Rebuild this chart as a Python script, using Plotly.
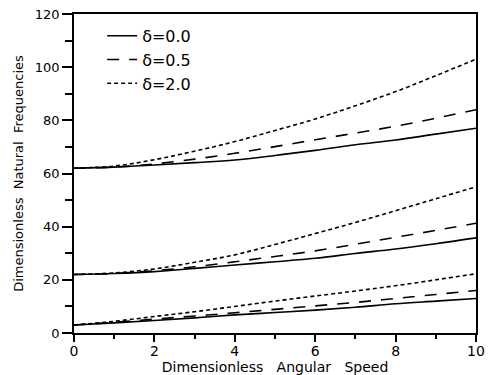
import plotly.graph_objects as go

speed = [0, 1, 2, 3, 4, 5, 6, 7, 8, 9, 10]

# mode 1
m1_d00 = [3.0, 3.8, 4.7, 5.7, 6.8, 7.7, 8.6, 9.7, 11.0, 12.0, 13.0]
m1_d05 = [3.0, 4.0, 5.2, 6.4, 7.6, 8.9, 10.2, 11.5, 13.0, 14.5, 16.0]
m1_d20 = [3.0, 4.4, 6.2, 8.0, 10.0, 12.0, 13.9, 15.8, 17.8, 20.0, 22.3]
# mode 2
m2_d00 = [22.0, 22.4, 23.1, 24.3, 25.6, 26.8, 28.1, 29.9, 31.6, 33.6, 35.8]
m2_d05 = [22.0, 22.4, 23.4, 24.9, 26.8, 28.8, 30.9, 33.4, 36.0, 38.6, 41.3]
m2_d20 = [22.0, 22.6, 24.1, 26.6, 29.4, 33.3, 37.4, 41.6, 46.0, 50.5, 55.0]
# mode 3
m3_d00 = [62.0, 62.4, 63.2, 64.1, 65.1, 66.8, 68.7, 70.8, 72.6, 74.8, 77.0]
m3_d05 = [62.0, 62.4, 63.6, 65.4, 67.6, 70.1, 72.7, 75.2, 77.8, 80.8, 84.0]
m3_d20 = [62.0, 62.8, 65.2, 68.4, 72.0, 76.2, 80.5, 85.5, 90.8, 96.8, 103.0]

series_names = ["δ=0.0", "δ=0.5", "δ=2.0"]
x_ticks = [0, 2, 4, 6, 8, 10]
y_ticks = [0, 20, 40, 60, 80, 100, 120]

dashes = ["solid", "12px,10px", "4px,3px"]
groups = [
    [m1_d00, m2_d00, m3_d00],
    [m1_d05, m2_d05, m3_d05],
    [m1_d20, m2_d20, m3_d20],
]

FONT = "DejaVu Sans"
fig = go.Figure()
for name, dash, modes in zip(series_names, dashes, groups):
    for k, vals in enumerate(modes):
        fig.add_trace(go.Scatter(
            x=speed, y=vals, mode="lines", name=name,
            line=dict(color="black", width=1.6, dash=dash, shape="spline", smoothing=1.0),
            showlegend=(k == 0), legendgroup=name,
        ))

fig.update_layout(
    width=491, height=375,
    margin=dict(l=74, r=15, t=14, b=42, autoexpand=False),
    paper_bgcolor="white", plot_bgcolor="white",
    font=dict(family=FONT, size=14, color="black"),
    legend=dict(x=0.07, y=0.985, xanchor="left", yanchor="top",
                bgcolor="rgba(0,0,0,0)", font=dict(size=16, family=FONT),
                tracegroupgap=0),
    showlegend=True,
)
fig.update_xaxes(
    range=[0, 10], tickvals=x_ticks, ticktext=[str(v) for v in x_ticks],
    showgrid=False, zeroline=False,
    showline=True, linecolor="black", linewidth=1.8, mirror=True,
    ticks="outside", ticklen=7, tickwidth=1.5, tickcolor="black",
    minor=dict(dtick=1, ticks="outside", ticklen=4, tickwidth=1.5, tickcolor="black"),
    tickfont=dict(size=14, family=FONT), ticklabelstandoff=-3,
    title=dict(text="Dimensionless   Angular   Speed", font=dict(size=14, family=FONT), standoff=1),
)
fig.update_yaxes(
    range=[0, 120], tickvals=y_ticks, ticktext=[str(v) for v in y_ticks],
    showgrid=False, zeroline=False,
    showline=True, linecolor="black", linewidth=1.8, mirror=True,
    ticks="outside", ticklen=10, tickwidth=1.5, tickcolor="black",
    minor=dict(dtick=10, ticks="outside", ticklen=7, tickwidth=1.5, tickcolor="black"),
    tickfont=dict(size=13, family=FONT),
    title=dict(text="Dimensionless  Natural  Frequencies", font=dict(size=13, family=FONT), standoff=8),
)

fig.write_html("out.html", config={"displayModeBar": False},
               post_script="document.body.style.margin='0';")
